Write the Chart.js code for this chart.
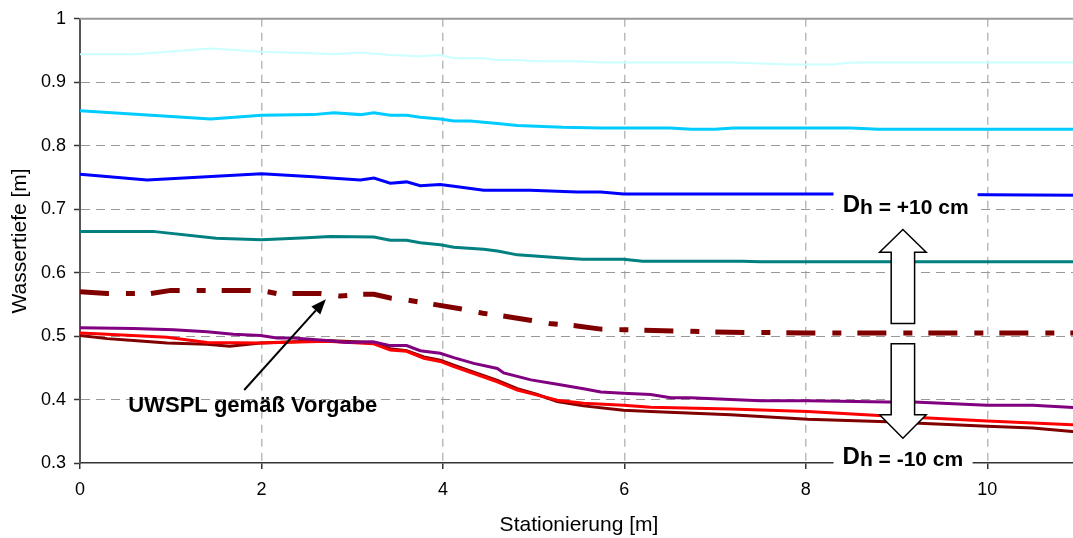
<!DOCTYPE html>
<html>
<head>
<meta charset="utf-8">
<script src="https://cdn.jsdelivr.net/npm/chart.js@4.4.0/dist/chart.umd.min.js"></script>
<style>
    html, body { margin: 0; padding: 0; background: #fff; overflow: hidden; }
    #wrap { position: relative; width: 1090px; height: 538px; }
</style>
</head>
<body>
<div id="wrap"><canvas id="chart"></canvas></div>
<script>
// Axis ticks
const xTicks = [0, 2, 4, 6, 8, 10];
const yTicks = [0.3, 0.4, 0.5, 0.6, 0.7, 0.8, 0.9, 1];

// Series (station [m] / water depth [m])
const xLightCyan = [0, 0.6, 1.44, 2.0, 2.5, 2.8, 3.09, 3.42, 3.75, 3.97, 4.12, 4.45, 4.6, 4.82, 5.0, 5.5, 5.74, 6.0, 7.2, 7.8, 8.0, 8.3, 8.5, 11];
const yLightCyan = [0.944, 0.944, 0.953, 0.948, 0.946, 0.944, 0.947, 0.943, 0.941, 0.943, 0.938, 0.938, 0.935, 0.935, 0.933, 0.933, 0.931, 0.931, 0.931, 0.928, 0.928, 0.928, 0.931, 0.931];

const xCyan = [0, 1.44, 2.0, 2.57, 2.8, 3.09, 3.24, 3.42, 3.6, 3.75, 3.97, 4.12, 4.3, 4.6, 4.82, 5.32, 5.74, 6.5, 6.74, 7.0, 7.2, 8.5, 8.8, 11];
const yCyan = [0.855, 0.842, 0.848, 0.849, 0.852, 0.849, 0.852, 0.848, 0.848, 0.845, 0.842, 0.839, 0.839, 0.835, 0.832, 0.829, 0.828, 0.828, 0.826, 0.826, 0.828, 0.828, 0.826, 0.826];

const xBlue = [0, 0.74, 2.0, 2.57, 2.76, 3.09, 3.24, 3.42, 3.6, 3.75, 3.97, 4.12, 4.45, 4.96, 5.48, 5.74, 5.99, 8.5, 11];
const yBlue = [0.755, 0.746, 0.756, 0.751, 0.749, 0.746, 0.749, 0.741, 0.743, 0.737, 0.739, 0.736, 0.730, 0.730, 0.727, 0.727, 0.724, 0.724, 0.722];

const xTeal = [0, 0.8, 1.5, 2.0, 2.5, 2.76, 3.24, 3.42, 3.6, 3.75, 3.97, 4.12, 4.45, 4.6, 4.82, 5.32, 5.54, 5.99, 6.2, 7.3, 7.5, 11];
const yTeal = [0.665, 0.665, 0.654, 0.652, 0.655, 0.657, 0.656, 0.651, 0.651, 0.647, 0.644, 0.640, 0.637, 0.634, 0.628, 0.623, 0.621, 0.621, 0.618, 0.618, 0.617, 0.617];

const xUwspl = [0, 0.3, 0.78, 1.0, 1.88, 2.06, 2.17, 2.65, 2.87, 3.1, 3.24, 3.42, 3.6, 3.9, 4.19, 4.44, 4.7, 4.96, 5.17, 5.48, 5.74, 5.99, 7.17, 8.0, 11];
const yUwspl = [0.570, 0.567, 0.567, 0.572, 0.572, 0.570, 0.567, 0.567, 0.563, 0.566, 0.566, 0.560, 0.557, 0.550, 0.543, 0.536, 0.531, 0.525, 0.520, 0.516, 0.511, 0.510, 0.506, 0.505, 0.505];

const xPurple = [0, 0.59, 1.03, 1.4, 1.69, 1.99, 2.17, 2.35, 2.72, 2.94, 3.23, 3.42, 3.6, 3.75, 3.97, 4.12, 4.34, 4.6, 4.67, 4.97, 5.26, 5.55, 5.74, 5.99, 6.29, 6.51, 6.73, 7.17, 7.5, 8.02, 8.9, 9.19, 10, 10.5, 11];
const yPurple = [0.513, 0.512, 0.510, 0.507, 0.503, 0.501, 0.497, 0.497, 0.493, 0.490, 0.491, 0.485, 0.485, 0.477, 0.473, 0.466, 0.457, 0.449, 0.442, 0.431, 0.424, 0.417, 0.412, 0.410, 0.408, 0.403, 0.403, 0.400, 0.398, 0.398, 0.396, 0.396, 0.391, 0.391, 0.387];

const xRed = [0, 0.3, 0.96, 1.4, 1.99, 2.72, 3.23, 3.42, 3.6, 3.79, 3.97, 4.12, 4.34, 4.6, 4.82, 5.04, 5.26, 5.55, 5.99, 6.29, 7.17, 8.02, 8.9, 9.19, 10, 11];
const yRed = [0.505, 0.503, 0.498, 0.490, 0.489, 0.492, 0.488, 0.478, 0.476, 0.465, 0.460, 0.452, 0.441, 0.428, 0.415, 0.407, 0.399, 0.394, 0.391, 0.388, 0.385, 0.381, 0.374, 0.372, 0.366, 0.360];

const xDarkRed = [0, 0.3, 0.59, 0.96, 1.4, 1.65, 1.99, 2.72, 3.23, 3.42, 3.6, 3.79, 3.97, 4.12, 4.34, 4.6, 4.82, 5.04, 5.26, 5.55, 5.99, 6.29, 7.17, 8.02, 8.9, 9.19, 10, 10.5, 11];
const yDarkRed = [0.501, 0.496, 0.493, 0.489, 0.487, 0.484, 0.489, 0.493, 0.490, 0.480, 0.477, 0.467, 0.462, 0.454, 0.443, 0.430, 0.417, 0.408, 0.397, 0.390, 0.383, 0.381, 0.376, 0.369, 0.365, 0.363, 0.358, 0.355, 0.349];

const FONT = "'Liberation Sans', Arial, sans-serif";

function toPoints(xs, ys) {
    return xs.map((x, i) => ({ x: x, y: ys[i] }));
}

function line(data, color, width, dash) {
    return {
        data: data,
        borderColor: color,
        borderWidth: width,
        borderDash: dash || [],
        borderCapStyle: 'butt',
        pointRadius: 0,
        tension: 0,
        fill: false
    };
}

// Arrows and labels on top of the lines
const annotations = {
    id: 'annotations',
    beforeDatasetsDraw(chart) {
        const ctx = chart.ctx;
        const a = chart.chartArea;
        ctx.save();
        ctx.strokeStyle = '#999';
        ctx.lineWidth = 2;
        ctx.beginPath();
        ctx.moveTo(a.left, a.top);
        ctx.lineTo(a.right, a.top);
        ctx.stroke();
        ctx.restore();
    },
    afterDraw(chart) {
        const ctx = chart.ctx;
        const xs = chart.scales.x;
        const ys = chart.scales.y;
        const px = v => xs.getPixelForValue(v);
        const py = v => ys.getPixelForValue(v);

        ctx.save();

        // white boxes behind the Dh labels
        ctx.fillStyle = '#fff';
        ctx.fillRect(px(8.305), py(0.736), px(9.893) - px(8.305), py(0.674) - py(0.736));
        ctx.fillRect(px(8.305), py(0.326), px(9.838) - px(8.305), py(0.286) - py(0.326));

        // block arrows
        const cx = px(9.07);
        const head = 23.3, shaft = 11.7;
        ctx.lineWidth = 1.5;
        ctx.strokeStyle = '#000';
        ctx.lineJoin = 'miter';

        let tip = py(0.668), base = py(0.632), end = py(0.520);
        ctx.beginPath();
        ctx.moveTo(cx, tip);
        ctx.lineTo(cx + head, base);
        ctx.lineTo(cx + shaft, base);
        ctx.lineTo(cx + shaft, end);
        ctx.lineTo(cx - shaft, end);
        ctx.lineTo(cx - shaft, base);
        ctx.lineTo(cx - head, base);
        ctx.closePath();
        ctx.fillStyle = '#fff';
        ctx.fill();
        ctx.stroke();

        tip = py(0.339); base = py(0.376); end = py(0.488);
        ctx.beginPath();
        ctx.moveTo(cx, tip);
        ctx.lineTo(cx + head, base);
        ctx.lineTo(cx + shaft, base);
        ctx.lineTo(cx + shaft, end);
        ctx.lineTo(cx - shaft, end);
        ctx.lineTo(cx - shaft, base);
        ctx.lineTo(cx - head, base);
        ctx.closePath();
        ctx.fill();
        ctx.stroke();

        // Dh labels
        function dhLabel(text, xVal, yVal) {
            ctx.fillStyle = '#000';
            ctx.textBaseline = 'alphabetic';
            ctx.textAlign = 'left';
            ctx.font = 'bold 24px ' + FONT;
            const wD = ctx.measureText('D').width;
            ctx.font = 'bold 21px ' + FONT;
            const wRest = ctx.measureText(text).width;
            const x0 = px(xVal) - (wD + wRest) / 2;
            const yb = py(yVal);
            ctx.font = 'bold 24px ' + FONT;
            ctx.fillText('D', x0, yb - 2);
            ctx.font = 'bold 21px ' + FONT;
            ctx.fillText(text, x0 + wD, yb);
        }
        dhLabel('h = +10 cm', 9.10, 0.692);
        dhLabel('h = -10 cm', 9.07, 0.2947);

        // UWSPL label with pointer
        ctx.font = 'bold 22px ' + FONT;
        ctx.textAlign = 'center';
        ctx.fillText('UWSPL gemäß Vorgabe', px(1.905), py(0.381));

        const x1 = px(1.81), y1 = py(0.415), x2 = px(2.71), y2 = py(0.558);
        const ang = Math.atan2(y2 - y1, x2 - x1);
        const hl = 15, hw = 6;
        ctx.lineWidth = 2;
        ctx.beginPath();
        ctx.moveTo(x1, y1);
        ctx.lineTo(x2 - hl * Math.cos(ang), y2 - hl * Math.sin(ang));
        ctx.stroke();
        ctx.beginPath();
        ctx.moveTo(x2, y2);
        ctx.lineTo(x2 - hl * Math.cos(ang) + hw * Math.sin(ang), y2 - hl * Math.sin(ang) - hw * Math.cos(ang));
        ctx.lineTo(x2 - hl * Math.cos(ang) - hw * Math.sin(ang), y2 - hl * Math.sin(ang) + hw * Math.cos(ang));
        ctx.closePath();
        ctx.fillStyle = '#000';
        ctx.fill();

        ctx.restore();
    }
};

new Chart(document.getElementById('chart'), {
    type: 'line',
    data: {
        datasets: [
            line(toPoints(xLightCyan, yLightCyan), '#CCFFFF', 2),
            line(toPoints(xCyan, yCyan), '#00CCFF', 3),
            line(toPoints(xBlue, yBlue), '#0000FF', 3),
            line(toPoints(xTeal, yTeal), '#008080', 3),
            line(toPoints(xUwspl, yUwspl), '#800000', 5, [29, 17, 9, 16]),
            line(toPoints(xPurple, yPurple), '#800080', 3),
            line(toPoints(xRed, yRed), '#FF0000', 3),
            line(toPoints(xDarkRed, yDarkRed), '#800000', 3)
        ]
    },
    options: {
        responsive: true,
        maintainAspectRatio: false,
        animation: false,
        layout: { padding: { top: 16, right: 12, left: 0, bottom: 0 } },
        plugins: {
            legend: { display: false },
            tooltip: { enabled: false }
        },
        scales: {
            x: {
                type: 'linear',
                min: 0,
                max: 11,
                afterBuildTicks: scale => { scale.ticks = xTicks.map(v => ({ value: v })); },
                afterFit: scale => { scale.height = 75; },
                border: { color: '#333', width: 1.5, dash: [8, 6] },
                grid: {
                    color: c => (c.tick && c.tick.value === 0) ? 'rgba(0,0,0,0)' : '#bbb',
                    lineWidth: 1.5,
                    tickColor: '#333',
                    tickLength: 6,
                    tickWidth: 1.5,
                    tickBorderDash: []
                },
                ticks: {
                    color: '#000',
                    padding: 10,
                    maxRotation: 0,
                    font: { family: FONT, size: 18 },
                    callback: v => String(v)
                },
                title: {
                    display: true,
                    text: 'Stationierung [m]',
                    color: '#000',
                    padding: { top: 0, bottom: 0 },
                    font: { family: FONT, size: 21 }
                }
            },
            y: {
                type: 'linear',
                min: 0.3,
                max: 1,
                afterBuildTicks: scale => { scale.ticks = yTicks.map(v => ({ value: v })); },
                afterFit: scale => { scale.width = 80; },
                border: { color: '#555', width: 2, dash: [9, 6] },
                grid: {
                    color: c => (c.tick && (c.tick.value === 0.3 || c.tick.value === 1)) ? 'rgba(0,0,0,0)' : '#999',
                    lineWidth: 1,
                    tickColor: '#333',
                    tickLength: 6,
                    tickWidth: 1.5,
                    tickBorderDash: []
                },
                ticks: {
                    color: '#000',
                    padding: 8,
                    font: { family: FONT, size: 18 },
                    callback: v => String(v)
                },
                title: {
                    display: true,
                    text: 'Wassertiefe [m]',
                    color: '#000',
                    padding: { top: 8, bottom: 0 },
                    font: { family: FONT, size: 21 }
                }
            }
        }
    },
    plugins: [annotations]
});
</script>
</body>
</html>
